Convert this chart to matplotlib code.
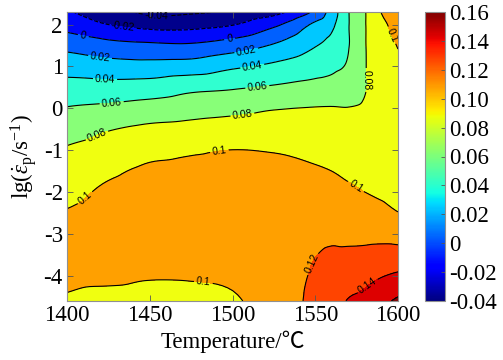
import numpy as np
import matplotlib
matplotlib.use("Agg")
import matplotlib.pyplot as plt
import matplotlib.tri as mtri
from matplotlib import cm, colors as mcolors

plt.rcParams["font.family"] = ["Liberation Serif", "Noto Sans CJK SC"]
plt.rcParams["mathtext.fontset"] = "custom"
plt.rcParams["mathtext.rm"] = "Liberation Serif"
plt.rcParams["mathtext.it"] = "Liberation Serif:italic"
plt.rcParams["axes.unicode_minus"] = False

# grid: temperature columns, lg(strain rate) rows
temps = [1400, 1425, 1450, 1475, 1500, 1525, 1550, 1560, 1570, 1580, 1590, 1600]
lg_rates = [-4.6, -4.0, -3.5, -3.0, -2.5, -2.0, -1.5, -1.0, -0.5, 0.0, 0.5, 1.0, 1.5, 2.0, 2.3]

# m value in each temperature column, bottom (lg=-4.6) to top (lg=2.3)
m_1400 = [0.099, 0.102, 0.104, 0.104, 0.101, 0.095, 0.0885, 0.082, 0.072, 0.061, 0.047, 0.032, 0.014, -0.008, -0.018]
m_1425 = [0.097, 0.102, 0.106, 0.107, 0.106, 0.103, 0.097, 0.088, 0.079, 0.064, 0.047, 0.028, 0.007, -0.020, -0.032]
m_1450 = [0.096, 0.101, 0.107, 0.109, 0.109, 0.107, 0.103, 0.095, 0.084, 0.068, 0.049, 0.027, 0.004, -0.027, -0.044]
m_1475 = [0.095, 0.1015, 0.108, 0.110, 0.110, 0.108, 0.104, 0.098, 0.086, 0.072, 0.055, 0.029, 0.003, -0.027, -0.0425]
m_1500 = [0.097, 0.104, 0.109, 0.111, 0.111, 0.109, 0.105, 0.1002, 0.088, 0.075, 0.058, 0.037, 0.010, -0.021, -0.037]
m_1525 = [0.112, 0.113, 0.113, 0.112, 0.111, 0.109, 0.105, 0.099, 0.089, 0.079, 0.062, 0.044, 0.022, -0.004, -0.027]
m_1550 = [0.124, 0.122, 0.1196, 0.1151, 0.1107, 0.1062, 0.1018, 0.0956, 0.0882, 0.0808, 0.066, 0.052, 0.039, 0.024, 0.004]
m_1560 = [0.132, 0.128, 0.123, 0.116, 0.111, 0.105, 0.100, 0.093, 0.087, 0.081, 0.067, 0.056, 0.046, 0.036, 0.029]
m_1570 = [0.141, 0.131, 0.123, 0.116, 0.109, 0.103, 0.097, 0.0915, 0.086, 0.0805, 0.071, 0.0625, 0.059, 0.059, 0.059]
m_1580 = [0.146, 0.134, 0.124, 0.1156, 0.1078, 0.100, 0.095, 0.090, 0.0855, 0.082, 0.079, 0.079, 0.079, 0.079, 0.079]
m_1590 = [0.155, 0.139, 0.126, 0.115, 0.1057, 0.097, 0.093, 0.090, 0.088, 0.087, 0.087, 0.089, 0.092, 0.096, 0.1005]
m_1600 = [0.163, 0.143, 0.127, 0.113, 0.1005, 0.095, 0.092, 0.090, 0.089, 0.090, 0.092, 0.096, 0.1008, 0.105, 0.108]
columns = [m_1400, m_1425, m_1450, m_1475, m_1500, m_1525, m_1550, m_1560, m_1570, m_1580, m_1590, m_1600]

line_levels = [-0.04, -0.02, 0.0, 0.02, 0.04, 0.06, 0.08, 0.10, 0.12, 0.14, 0.16]
fill_levels = [-1.0] + line_levels[1:] + [1.0]
band_colors = ["#00008c", "#0008fa", "#0060ff", "#00c8ff", "#30ffd0", "#88ff78",
               "#f0ff10", "#ffa000", "#ff4400", "#dd0000", "#800000"]
cbar_ticks = [-0.04, -0.02, 0.0, 0.02, 0.04, 0.06, 0.08, 0.10, 0.12, 0.14, 0.16]
cbar_labels = ["-0.04", "-0.02", "0", "0.02", "0.04", "0.06", "0.08", "0.10", "0.12", "0.14", "0.16"]
x_ticks = [1400, 1450, 1500, 1550, 1600]
y_ticks = [-4, -3, -2, -1, 0, 1, 2]

# where the inline contour labels sit
label_pos = [(1454, 2.23), (1434, 1.97), (1410, 1.77), (1498, 1.75), (1420, 1.23), (1508, 1.44),
             (1423, 0.70), (1512, 0.99), (1427, 0.13), (1515, 0.51), (1583, 0.68), (1506, -0.16),
             (1418, -0.64), (1594, 1.70), (1409, -2.07), (1492, -0.99), (1574, -1.90),
             (1482, -4.29), (1547, -3.69), (1582, -4.26)]

T, Y = np.meshgrid(temps, lg_rates)
Z = np.array(columns).T
nr, nc = Z.shape
tris = []
for i in range(nr - 1):
    for j in range(nc - 1):
        a = i * nc + j
        tris.append([a, a + 1, a + nc])
        tris.append([a + 1, a + nc + 1, a + nc])
tri = mtri.Triangulation(T.ravel(), Y.ravel(), tris)
interp = mtri.CubicTriInterpolator(tri, Z.ravel(), kind="geom")
tri_f, z_f = mtri.UniformTriRefiner(tri).refine_field(Z.ravel(), interp, subdiv=3)

fig = plt.figure(figsize=(5.03, 3.6), dpi=100)
ax = fig.add_axes([67 / 503, 59 / 360, 331 / 503, 289 / 360])
cax = fig.add_axes([425 / 503, 59 / 360, 20 / 503, 289 / 360])

ax.tricontourf(tri_f, z_f, levels=fill_levels, colors=band_colors)
cs = ax.tricontour(tri_f, z_f, levels=line_levels, colors="k", linewidths=0.8)
lbls = ax.clabel(cs, manual=label_pos, fmt="%g", fontsize=7.5, inline=True, inline_spacing=3)
for t in lbls:
    t.set_family("Liberation Sans")

ax.set_xlim(1400, 1600)
ax.set_ylim(-4.6, 2.3)
ax.set_xticks(x_ticks)
ax.set_xticklabels([str(v) for v in x_ticks], fontfamily="Liberation Serif", fontsize=16.5)
ax.set_yticks(y_ticks)
ax.set_yticklabels([str(v) for v in y_ticks], fontfamily="Liberation Serif", fontsize=16.5)
ax.tick_params(direction="in", top=True, right=True, length=4, width=0.6,
               color="#555555", pad=3)
for s in ax.spines.values():
    s.set_color("#909090")
    s.set_linewidth(0.8)
ax.set_xlabel("Temperature/\u2103", fontsize=16.5, labelpad=3)
ax.set_ylabel(r"$\mathrm{lg}(\dot{\varepsilon}_{\mathrm{p}}/\mathrm{s}^{-1})$", fontsize=16.5, labelpad=3)

norm = mcolors.Normalize(vmin=-0.04, vmax=0.16)
cb = fig.colorbar(cm.ScalarMappable(norm=norm, cmap="jet"), cax=cax)
cb.set_ticks(cbar_ticks)
cb.ax.set_yticklabels(cbar_labels, fontfamily="Liberation Serif", fontsize=16.5)
cb.ax.tick_params(direction="in", length=3, width=0.6, color="#555555", pad=3)
cb.outline.set_edgecolor("#909090")
cb.outline.set_linewidth(0.8)

fig.savefig("out.png", dpi=100)
